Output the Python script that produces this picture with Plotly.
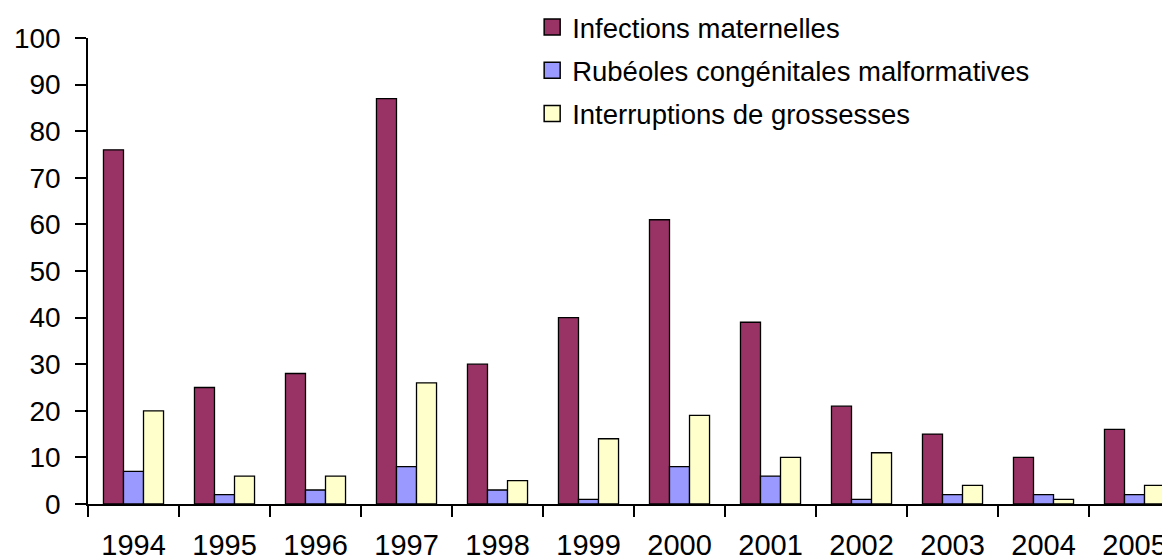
import plotly.graph_objects as go

years = ["1994", "1995", "1996", "1997", "1998", "1999", "2000", "2001", "2002", "2003", "2004", "2005"]
infections = [76, 25, 28, 87, 30, 40, 61, 39, 21, 15, 10, 16]
rubeoles = [7, 2, 3, 8, 3, 1, 8, 6, 1, 2, 2, 2]
interruptions = [20, 6, 6, 26, 5, 14, 19, 10, 11, 4, 1, 4]

series = [
    ("Infections maternelles", infections, "#993366"),
    ("Rubéoles congénitales malformatives", rubeoles, "#9999FF"),
    ("Interruptions de grossesses", interruptions, "#FFFFCC"),
]

fig = go.Figure()
for i, (name, vals, col) in enumerate(series):
    fig.add_trace(go.Bar(
        x=years, y=vals, name=name, legendgroup=f"g{i}", showlegend=False,
        marker=dict(color=col, line=dict(color="#000000", width=1.3)),
    ))
# legend entries with larger square swatches
for i, (name, vals, col) in enumerate(series):
    fig.add_trace(go.Scatter(
        x=[None], y=[None], mode="markers", name=name, legendgroup=f"g{i}",
        marker=dict(symbol="square", size=16, color=col,
                    line=dict(color="#000000", width=1.5)),
    ))

fig.update_layout(
    width=1162, height=552,
    margin=dict(l=80, r=0, t=30, b=56, autoexpand=False),
    paper_bgcolor="white", plot_bgcolor="white",
    barmode="group", bargap=0.34, bargroupgap=0,
    font=dict(family="Liberation Sans, Arial, sans-serif", size=28, color="#000000"),
    showlegend=True,
    legend=dict(x=0.4105, y=1.076, xanchor="left", yanchor="top",
                bgcolor="rgba(0,0,0,0)", tracegroupgap=4.5,
                font=dict(size=27.5), itemwidth=30, itemsizing="trace"),
)
fig.update_xaxes(
    type="category", range=[-0.5, 11.39],
    showline=True, linecolor="#000000", linewidth=1.5,
    ticks="outside", ticklen=11, tickwidth=1.5, tickcolor="#000000",
    tickson="boundaries", showgrid=False, zeroline=False,
    tickfont=dict(size=29),
    ticklabelstandoff=14, automargin=False,
)
fig.update_yaxes(
    range=[0, 100], dtick=10,
    showline=True, linecolor="#000000", linewidth=1.5,
    ticks="outside", ticklen=11, tickwidth=1.5, tickcolor="#000000",
    showgrid=False, zeroline=False, ticklabelstandoff=9, automargin=False,
)

fig.write_html("out.html")
